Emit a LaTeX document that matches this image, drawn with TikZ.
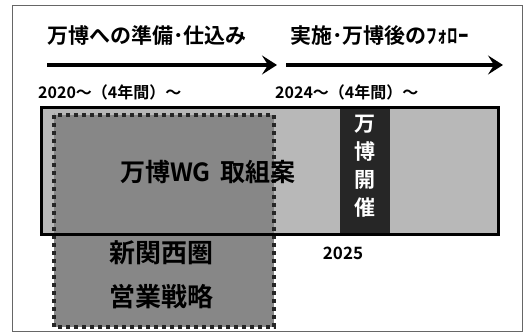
\documentclass[tikz,border=0pt]{standalone}
\usepackage{fontspec}
\setmainfont{Noto Sans CJK JP}[BoldFont={Noto Sans CJK JP Bold}]
\usetikzlibrary{arrows.meta}
\tikzset{
  tl/.style={font=\fontsize{21}{23}\selectfont\bfseries, inner sep=0pt},
  yr/.style={font=\fontsize{16}{18}\selectfont\bfseries, inner sep=0pt},
  bigarrow/.style={line width=3.4pt, -{Stealth[length=15pt,width=19pt,inset=6pt]}},
  dotbox/.style={fill=black!47, draw=black!85, line width=4pt, dash pattern=on 4pt off 4pt},
}
\begin{document}
\begin{tikzpicture}[x=1pt,y=-1pt]
\useasboundingbox (0,0) rectangle (532,336);
\fill[white] (0,0) rectangle (532,336);
\draw[black!60, line width=1pt] (12,6) rectangle (522,331);
% titles
\node[tl, anchor=west] (t1) at (47,36) {万博への準備･仕込み};
\node[tl, anchor=west] (t2) at (290,36) {実施･万博後のﾌｫﾛｰ};
% arrows
\coordinate (a1s) at (47,65);
\coordinate (a1e) at (277,65);
\coordinate (a2s) at (286,65);
\coordinate (a2e) at (503,65);
\draw[bigarrow] (a1s) -- (a1e);
\draw[bigarrow] (a2s) -- (a2e);
% year labels
\node[yr, anchor=west] (y1) at (38,92) {2020～（4年間）～};
\node[yr, anchor=west] (y2) at (275,92) {2024～（4年間）～};
% main box fill
\fill[black!28] (41,108) rectangle (498,235);
% dotted box
\path[dotbox] (54,115) rectangle (274,327);
% dark band
\fill[black!85] (340,108) rectangle (390,235);
% main box border
\draw[black, line width=3pt] (41,108) rectangle (498,235);
\node[font=\fontsize{25}{27}\selectfont\bfseries, inner sep=0pt] (wg) at (208,172) {万博WG\hspace{0.4em}取組案};
\node[font=\fontsize{21}{28}\selectfont\bfseries, text=white, align=center, inner sep=0pt] (kai) at (365,166) {万\\博\\開\\催};
\node[font=\fontsize{26}{44}\selectfont\bfseries, align=center, inner sep=0pt] (st) at (161,275) {新関西圏\\営業戦略};
\node[font=\fontsize{17}{19}\selectfont\bfseries, inner sep=0pt] (y3) at (343,253) {2025};
\end{tikzpicture}
\end{document}
